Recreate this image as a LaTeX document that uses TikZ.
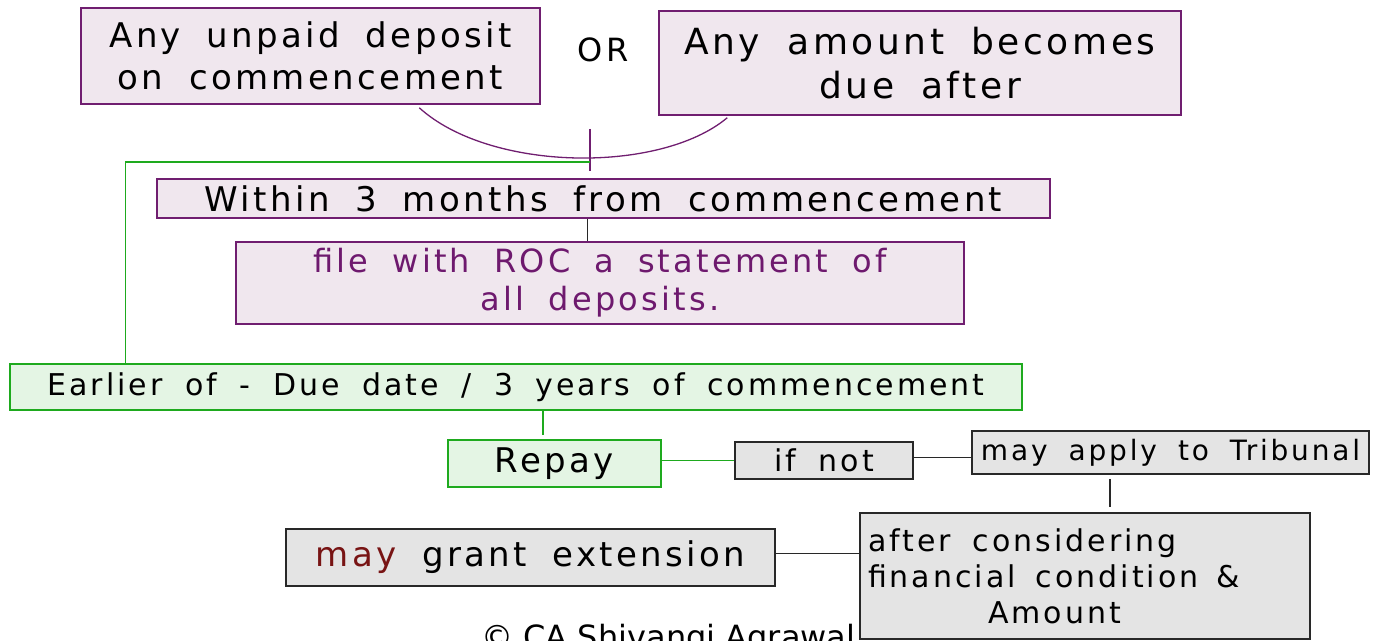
\documentclass[tikz,border=0pt]{standalone}
\usepackage{fontspec}
\setmainfont{DejaVu Sans}
\newfontfamily\hand{DejaVu Sans}[LetterSpace=10,WordSpace=1.8]
\definecolor{pborder}{RGB}{112,30,112}
\definecolor{pfill}{RGB}{240,231,238}
\definecolor{ptext}{RGB}{110,25,110}
\definecolor{gborder}{RGB}{30,170,30}
\definecolor{gfill}{RGB}{228,245,228}
\definecolor{kfill}{RGB}{228,228,228}
\definecolor{kborder}{RGB}{40,40,40}
\definecolor{mayred}{RGB}{120,20,20}
\begin{document}
\begin{tikzpicture}[x=0.5pt,y=-0.5pt,
  box/.style={rectangle, inner sep=0pt, align=center, line width=0.75pt},
  pbox/.style={box, draw=pborder, fill=pfill},
  gbox/.style={box, draw=gborder, fill=gfill},
  kbox/.style={box, draw=kborder, fill=kfill},
  size/.style 2 args={minimum width=#1*0.5pt, minimum height=#2*0.5pt},
  fs/.style 2 args={font=\hand\fontsize{#1}{#2}\selectfont},
  pline/.style={draw=pborder, line width=0.65pt},
  gline/.style={draw=gborder, line width=0.75pt},
  kline/.style={draw=kborder, line width=0.65pt}
]
\useasboundingbox (0,0) rectangle (1375,641);
% boxes
\node[pbox, size={459}{96}, fs={17}{21}] (b1) at (310.5,56) {Any unpaid deposit\\on commencement};
\node[fs={16}{18}, inner sep=0pt] (or) at (603,50) {OR};
\node[pbox, size={522}{104}, fs={18}{22}] (b3) at (920,63) {Any amount becomes\\due after};
\node[pbox, size={893}{39}, fs={17}{19}] (within) at (603.5,198.5) {Within 3 months from commencement};
\node[pbox, size={728}{82}, fs={16}{19}, text=ptext] (file) at (600,283) {file with ROC a statement of\\all deposits.};
\node[gbox, size={1012}{46}, fs={15}{18}] (earlier) at (516,387) {Earlier of - Due date / 3 years of commencement};
\node[gbox, size={213}{47}, fs={17}{19}] (repay) at (554.5,463.5) {Repay};
\node[kbox, size={178}{37}, fs={15}{18}] (ifnot) at (824,460.5) {if not};
\node[kbox, size={397}{43}, fs={14}{17}] (trib) at (1170.5,452.5) {may apply to Tribunal};
\node[kbox, size={489}{57}, fs={17}{19}] (grant) at (530.5,557.5) {{\color{mayred}may} grant extension};
\node[kbox, size={450}{126}, fs={15}{18}, text width=217pt, align=left] (after) at (1085,576) {after\hspace{6pt} considering\\financial\hspace{5pt} condition\hspace{4pt} \&\\\hspace*{60pt}Amount};
\node[anchor=base west, inner sep=0pt, font=\fontsize{16}{18}\selectfont] (copy) at (481,648) {© CA Shivangi Agrawal};
% connectors
\coordinate (cL) at ([shift={(339,3)}]b1.south west);
\coordinate (cR) at ([shift={(69,2)}]b3.south west);
\draw[pline] (cL) .. controls (490,172) and (660,174) .. (cR);
\coordinate (v1) at (590,129);
\coordinate (v2) at (590,171);
\draw[pline] (v1) -- (v2);
\coordinate (g0) at (590,162);
\draw[gline] (g0) -| ([xshift=58pt]earlier.north west);
\draw[kline] ([xshift=-8pt]within.south) -- ([xshift=-8pt]within.south |- file.north);
\draw[gline] ([xshift=13.5pt]earlier.south) -- ([xshift=13.5pt,yshift=2pt]earlier.south |- repay.north);
\draw[gline] (ifnot.west -| repay.east) -- (ifnot.west);
\draw[kline] ([yshift=1.5pt]ifnot.east) -- ([yshift=1.5pt]ifnot.east -| trib.west);
\draw[kline] ([xshift=-30.25pt,yshift=-2pt]trib.south) -- ([xshift=-30.25pt,yshift=2.5pt]trib.south |- after.north);
\draw[kline] ([yshift=2pt]grant.east) -- ([yshift=2pt]grant.east -| after.west);
\end{tikzpicture}
\end{document}
